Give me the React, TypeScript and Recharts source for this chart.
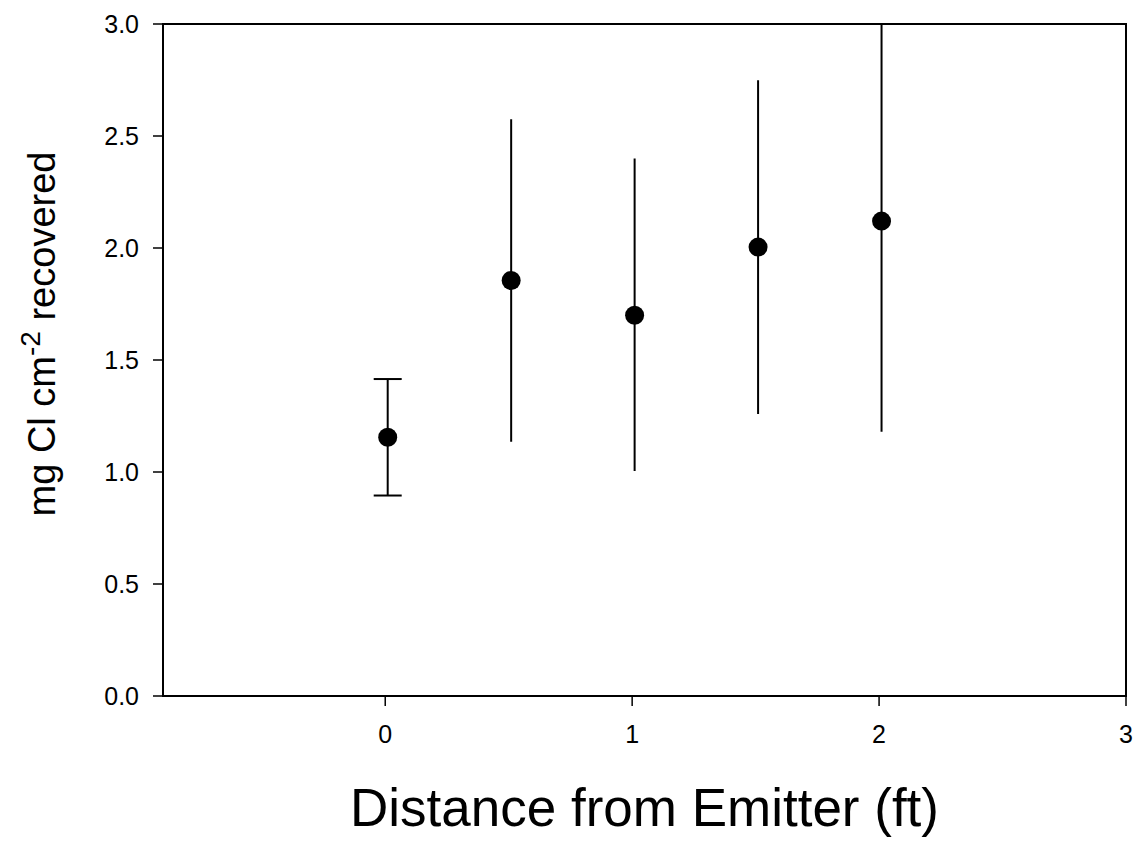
import React from 'react';
import { ScatterChart, Scatter, XAxis, YAxis, ErrorBar, ReferenceArea } from 'recharts';

const distances = [0.01, 0.51, 1.01, 1.51, 2.01];
const chloride = [1.155, 1.855, 1.7, 2.004, 2.12];
const errLow = [0.26, 0.72, 0.695, 0.745, 0.94];
const errHigh = [0.26, 0.72, 0.7, 0.745, 0.88];
const xTicks = [0, 1, 2, 3];
const yTicks = [0, 0.5, 1, 1.5, 2, 2.5, 3];

const points = distances.map((d, i) => ({
  x: d,
  y: chloride[i],
  err: [errLow[i], errHigh[i]],
}));
const cappedPoints = points.slice(0, 1);
const plainPoints = points.slice(1);

const FONT = '"Liberation Sans", Arial, Helvetica, sans-serif';

const Dot = (props: any) => <circle cx={props.cx} cy={props.cy} r={9.5} fill="#000" />;

const YLabel = (props: any) => {
  const vb = props.viewBox || { x: 0, y: 24, width: 163, height: 672 };
  const cx = vb.x + 55;
  const cy = vb.y + vb.height / 2 - 26;
  return (
    <text
      x={cx}
      y={cy}
      transform={`rotate(-90, ${cx}, ${cy})`}
      textAnchor="middle"
      fontFamily={FONT}
      fontSize={38}
      fill="#000"
    >
      <tspan>mg Cl cm</tspan>
      <tspan dy={-15} fontSize={28}>-2</tspan>
      <tspan dy={15}> recovered</tspan>
    </text>
  );
};

const XTick = (props: any) => (
  <text
    x={props.x}
    y={props.y}
    dy="0.75em"
    textAnchor="middle"
    fontFamily={FONT}
    fontSize={25}
    fill="#000"
  >
    {props.payload.value}
  </text>
);

const YTick = (props: any) => (
  <text
    x={props.x}
    y={props.y}
    dy="0.36em"
    textAnchor="end"
    fontFamily={FONT}
    fontSize={25}
    fill="#000"
  >
    {Number(props.payload.value).toFixed(1)}
  </text>
);

export default function App() {
  return (
    <div style={{ position: 'absolute', left: 0, top: 0, background: '#fff' }}>
      <ScatterChart width={1136} height={841} margin={{ top: 24, right: 10, bottom: 0, left: 0 }}>
        <XAxis
          type="number"
          dataKey="x"
          domain={[-0.9, 3]}
          ticks={xTicks}
          allowDataOverflow
          height={145}
          tickSize={10}
          tickMargin={18}
          axisLine={{ stroke: '#000', strokeWidth: 2 }}
          tickLine={{ stroke: '#000', strokeWidth: 1.5 }}
          tick={<XTick />}
          label={{
            value: 'Distance from Emitter (ft)',
            position: 'insideBottom',
            offset: 15,
            fill: '#000',
            fontSize: 53,
            fontFamily: FONT,
          }}
        />
        <YAxis
          type="number"
          dataKey="y"
          domain={[0, 3]}
          ticks={yTicks}
          allowDataOverflow
          width={163}
          tickSize={10}
          tickMargin={14}
          axisLine={{ stroke: '#000', strokeWidth: 2 }}
          tickLine={{ stroke: '#000', strokeWidth: 1.5 }}
          tick={<YTick />}
          label={<YLabel />}
        />
        <ReferenceArea x1={-0.9} x2={3} y1={0} y2={3} fill="none" stroke="#000" strokeWidth={2} />
        <Scatter data={cappedPoints} shape={Dot} isAnimationActive={false}>
          <ErrorBar dataKey="err" direction="y" width={14} stroke="#000" strokeWidth={2} isAnimationActive={false} />
        </Scatter>
        <Scatter data={plainPoints} shape={Dot} isAnimationActive={false}>
          <ErrorBar dataKey="err" direction="y" width={0} stroke="#000" strokeWidth={2} isAnimationActive={false} />
        </Scatter>
      </ScatterChart>
    </div>
  );
}
